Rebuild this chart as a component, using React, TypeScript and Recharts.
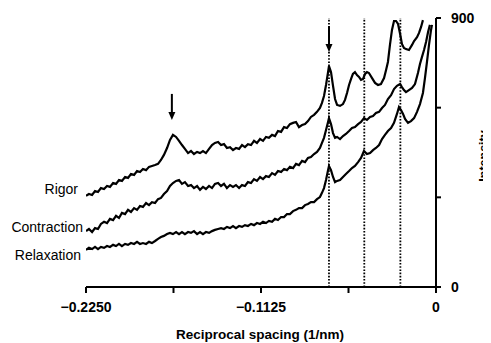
import React from 'react';
import { LineChart, Line, XAxis, YAxis, ReferenceLine, ReferenceDot, Customized } from 'recharts';

const FONT = '"Liberation Sans", Arial, Helvetica, sans-serif';

// Reciprocal spacing (1/nm) shared by the three traces up to about -0.075
const baseSpacing = [
  -0.2250, -0.2231, -0.2211, -0.2192, -0.2173, -0.2154, -0.2134, -0.2115, -0.2096, -0.2076,
  -0.2057, -0.2038, -0.2019, -0.1999, -0.1980, -0.1961, -0.1941, -0.1922, -0.1903, -0.1884,
  -0.1864, -0.1845, -0.1826, -0.1806, -0.1787, -0.1768, -0.1749, -0.1729, -0.1710, -0.1691,
  -0.1671, -0.1652, -0.1633, -0.1614, -0.1594, -0.1575, -0.1556, -0.1536, -0.1517, -0.1498,
  -0.1479, -0.1459, -0.1440, -0.1421, -0.1401, -0.1382, -0.1363, -0.1344, -0.1324, -0.1305,
  -0.1286, -0.1266, -0.1247, -0.1228, -0.1209, -0.1189, -0.1170, -0.1151, -0.1131, -0.1112,
  -0.1093, -0.1074, -0.1054, -0.1035, -0.1016, -0.0996, -0.0977, -0.0958, -0.0939, -0.0919,
  -0.0900, -0.0881, -0.0861, -0.0842, -0.0823, -0.0804, -0.0784, -0.0765, -0.0746,
];

const rigorTailSpacing = [
  -0.0733, -0.0720, -0.0707, -0.0694, -0.0688, -0.0675, -0.0662, -0.0649, -0.0636, -0.0617,
  -0.0598, -0.0585, -0.0572, -0.0559, -0.0546, -0.0534, -0.0521, -0.0508, -0.0495, -0.0482,
  -0.0469, -0.0456, -0.0444, -0.0431, -0.0411, -0.0392, -0.0373, -0.0354, -0.0334, -0.0321,
  -0.0309, -0.0296, -0.0283, -0.0270, -0.0257, -0.0244, -0.0231, -0.0219, -0.0206, -0.0193,
  -0.0174, -0.0154, -0.0141, -0.0122, -0.0109, -0.0096, -0.0084,
];

const contractionTailSpacing = [
  -0.0733, -0.0720, -0.0707, -0.0694, -0.0688, -0.0675, -0.0662, -0.0649, -0.0636, -0.0617,
  -0.0598, -0.0579, -0.0559, -0.0540, -0.0521, -0.0501, -0.0482, -0.0463, -0.0444, -0.0424,
  -0.0405, -0.0386, -0.0366, -0.0347, -0.0328, -0.0309, -0.0289, -0.0270, -0.0251, -0.0231,
  -0.0219, -0.0206, -0.0193, -0.0174, -0.0154, -0.0135, -0.0116, -0.0103, -0.0090, -0.0077,
  -0.0064, -0.0051, -0.0039,
];

const relaxationTailSpacing = [
  -0.0733, -0.0720, -0.0707, -0.0694, -0.0688, -0.0675, -0.0662, -0.0649, -0.0636, -0.0617,
  -0.0598, -0.0579, -0.0559, -0.0540, -0.0521, -0.0501, -0.0482, -0.0463, -0.0444, -0.0424,
  -0.0405, -0.0386, -0.0366, -0.0347, -0.0328, -0.0309, -0.0289, -0.0270, -0.0251, -0.0238,
  -0.0225, -0.0212, -0.0199, -0.0180, -0.0161, -0.0141, -0.0122, -0.0103, -0.0084, -0.0071,
  -0.0058, -0.0045, -0.0032, -0.0026,
];

const rigorIntensity = [
  305, 311, 308, 321, 318, 331, 328, 338, 335, 348,
  345, 358, 355, 368, 365, 378, 375, 388, 385, 395,
  391, 402, 405, 408, 412, 425, 442, 465, 492, 509,
  502, 489, 475, 462, 448, 455, 445, 452, 448, 455,
  448, 462, 475, 482, 485, 475, 478, 465, 468, 458,
  465, 462, 475, 468, 478, 475, 489, 482, 495, 489,
  502, 499, 509, 505, 522, 519, 535, 532, 545, 549,
  552, 535, 542, 545, 555, 569, 576, 586, 599,
  616, 639, 676, 719, 739, 719, 673, 629, 609, 606,
  612, 626, 649, 676, 696, 713, 719, 709, 703, 693,
  696, 713, 719, 716, 699, 683, 676, 679, 699, 726,
  753, 810, 860, 890, 890, 880, 847, 813, 800, 796,
  793, 810, 823, 836, 850, 870, 893,
];

const contractionIntensity = [
  187, 194, 184, 197, 194, 211, 218, 214, 228, 224,
  238, 231, 248, 244, 258, 251, 264, 258, 271, 268,
  281, 274, 284, 281, 294, 298, 311, 321, 338, 348,
  355, 358, 345, 351, 338, 341, 331, 338, 325, 335,
  328, 338, 331, 345, 348, 338, 345, 331, 341, 335,
  341, 331, 341, 338, 351, 348, 361, 355, 368, 361,
  371, 368, 381, 375, 388, 385, 395, 391, 402, 398,
  412, 408, 422, 418, 432, 435, 445, 452, 465,
  482, 499, 525, 552, 565, 545, 515, 499, 502, 495,
  505, 512, 522, 532, 535, 545, 552, 565, 559, 569,
  572, 582, 586, 599, 609, 629, 642, 662, 673, 679,
  669, 659, 652, 659, 666, 679, 716, 746, 770, 793,
  820, 853, 877,
];

const relaxationIntensity = [
  124, 131, 127, 134, 127, 134, 131, 137, 134, 141,
  137, 144, 137, 144, 141, 147, 144, 151, 144, 147,
  144, 151, 147, 154, 161, 167, 171, 177, 181, 177,
  184, 177, 184, 177, 184, 181, 187, 177, 184, 177,
  184, 181, 187, 191, 194, 197, 194, 201, 197, 204,
  197, 204, 201, 207, 204, 211, 207, 214, 211, 218,
  214, 221, 218, 228, 224, 234, 234, 244, 244, 254,
  258, 264, 264, 274, 278, 284, 284, 294, 301,
  315, 331, 358, 391, 405, 391, 368, 351, 355, 358,
  368, 378, 388, 398, 405, 418, 432, 455, 445, 448,
  458, 465, 475, 495, 509, 522, 532, 549, 579, 602,
  592, 579, 562, 549, 555, 565, 586, 612, 649, 699,
  753, 810, 860, 877,
];

const xTicks = [-0.225, -0.16875, -0.1125, -0.05625, 0];
const xTickText: Record<string, string> = { '-0.225': '\u22120.2250', '-0.1125': '\u22120.1125', '0': '0' };
const yTicks = [0, 300, 600, 900];
const yTickText: Record<string, string> = { '0': '0', '900': '900' };

const reflectionSpacings = [-0.0688, -0.0461, -0.0229];
const arrowSpacings = [-0.1698, -0.0688];
const arrowIntensities = [559, 786];

const seriesNames = ['Rigor', 'Contraction', 'Relaxation'];

const toPoints = (xs: number[], ys: number[]) => xs.map((x, i) => ({ x, y: ys[i] }));

const rigorData = toPoints([...baseSpacing, ...rigorTailSpacing], rigorIntensity);
const contractionData = toPoints([...baseSpacing, ...contractionTailSpacing], contractionIntensity);
const relaxationData = toPoints([...baseSpacing, ...relaxationTailSpacing], relaxationIntensity);

const ArrowShape = (props: any) => {
  const { cx, cy } = props;
  if (cx == null || cy == null) return null;
  return (
    <g>
      <line x1={cx} y1={cy - 26} x2={cx} y2={cy - 7} stroke="#000" strokeWidth={2} />
      <polygon points={`${cx - 3.5},${cy - 8} ${cx + 3.5},${cy - 8} ${cx},${cy}`} fill="#000" />
    </g>
  );
};

const Labels = () => (
  <g fontFamily={FONT}>
    <text x={70} y={186} fontSize={14} textAnchor="end" fill="#000">{seriesNames[0]}</text>
    <text x={75} y={224} fontSize={14} textAnchor="end" fill="#000">{seriesNames[1]}</text>
    <text x={73} y={252} fontSize={14} textAnchor="end" fill="#000">{seriesNames[2]}</text>
    <text x={252} y={331} fontSize={13.5} fontWeight="bold" textAnchor="middle" fill="#000">
      Reciprocal spacing (1/nm)
    </text>
    <text
      x={476}
      y={148}
      fontSize={12.5}
      fontWeight="bold"
      textAnchor="middle"
      dominantBaseline="central"
      fill="#000"
      transform="rotate(-90 476 148)"
    >
      Intensity
    </text>
  </g>
);

export default function App() {
  return (
    <LineChart width={483} height={335} margin={{ top: 10, right: 10, bottom: 26, left: 78 }}>
      <XAxis
        type="number"
        dataKey="x"
        domain={[-0.225, 0]}
        allowDataOverflow
        ticks={xTicks}
        tickFormatter={(v: number) => xTickText[String(v)] ?? ''}
        height={30}
        tickSize={6}
        tickMargin={9}
        axisLine={{ stroke: '#000', strokeWidth: 2 }}
        tickLine={{ stroke: '#000', strokeWidth: 2 }}
        tick={{ fill: '#000', fontSize: 14, fontWeight: 'bold', fontFamily: FONT }}
      />
      <YAxis
        yAxisId={0}
        orientation="right"
        type="number"
        domain={[0, 900]}
        allowDataOverflow
        ticks={yTicks}
        tickFormatter={(v: number) => yTickText[String(v)] ?? ''}
        width={45}
        tickSize={5}
        tickMargin={10}
        axisLine={{ stroke: '#000', strokeWidth: 2 }}
        tickLine={{ stroke: '#000', strokeWidth: 2 }}
        tick={{ fill: '#000', fontSize: 14, fontWeight: 'bold', fontFamily: FONT }}
      />
      {reflectionSpacings.map((x) => (
        <ReferenceLine key={x} x={x} stroke="#000" strokeWidth={1.8} strokeDasharray="1.6 1.6" />
      ))}
      <Line data={rigorData} dataKey="y" name={seriesNames[0]} stroke="#000" strokeWidth={2.2} dot={false} isAnimationActive={false} />
      <Line data={contractionData} dataKey="y" name={seriesNames[1]} stroke="#000" strokeWidth={2.2} dot={false} isAnimationActive={false} />
      <Line data={relaxationData} dataKey="y" name={seriesNames[2]} stroke="#000" strokeWidth={2.2} dot={false} isAnimationActive={false} />
      {arrowSpacings.map((x, i) => (
        <ReferenceDot key={x} x={x} y={arrowIntensities[i]} r={0} shape={ArrowShape} ifOverflow="visible" />
      ))}
      <Customized component={Labels} />
    </LineChart>
  );
}
